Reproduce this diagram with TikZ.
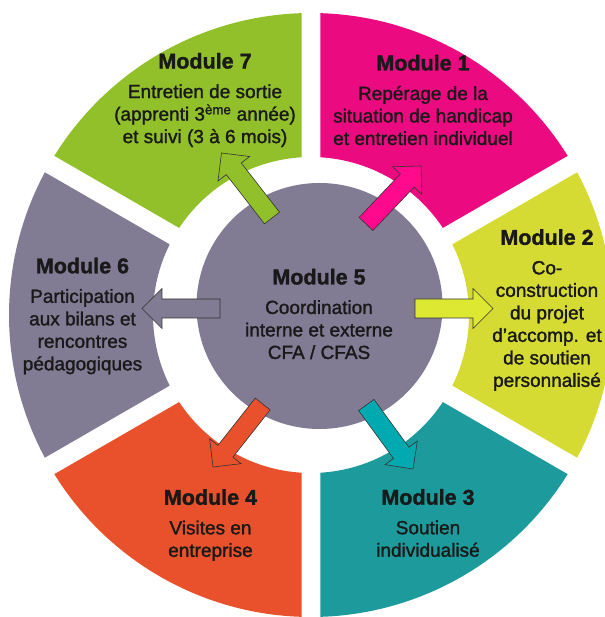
\documentclass[tikz,border=0pt]{standalone}
\usepackage{fontspec}
\setmainfont{Liberation Sans}
\newfontfamily\bodyfont[FakeBold=1.4]{Liberation Sans}
\usetikzlibrary{calc}

\definecolor{green7}{HTML}{92C02B}
\definecolor{magenta1}{HTML}{EB0A7F}
\definecolor{yellow2}{HTML}{D6DB33}
\definecolor{teal3}{HTML}{1D9B9C}
\definecolor{orange4}{HTML}{E9512C}
\definecolor{grey6}{HTML}{817B93}
\definecolor{pinkarrow}{HTML}{FF0A8C}
\definecolor{yellowarrow}{HTML}{DDE833}
\definecolor{tealarrow}{HTML}{00AAB0}

\tikzset{
  modtext/.style={align=center, inner sep=0pt, text=black!90, font=\bodyfont\fontsize{19}{22.5}\selectfont},
  hub/.style={circle, fill=grey6, minimum size=246pt, inner sep=0pt},
  arrowline/.style={draw=black!80, line width=0.6pt, line join=miter}
}
\newcommand{\modtitle}[1]{{\fontsize{21.5}{22.5}\selectfont\bfseries #1}\\[7pt]}
% block arrow from tail #2 to tip #3
\newcommand{\modarrow}[3]{%
  \coordinate (head) at ($(#3)!20pt!(#2)$);
  \filldraw[arrowline, fill=#1] ($(#2)!9.5pt!90:(#3)$) -- ($(head)!9.5pt!90:(#3)$)
    -- ($(head)!20pt!90:(#3)$) -- (#3) -- ($(head)!20pt!-90:(#3)$)
    -- ($(head)!9.5pt!-90:(#3)$) -- ($(#2)!9.5pt!-90:(#3)$) -- cycle;}

\begin{document}
\begin{tikzpicture}[x=1pt,y=1pt]
  \useasboundingbox (-311,-302) rectangle (293,315);
  \fill[white] (-311,-302) rectangle (293,315);

  % ring
  \pgfmathsetmacro{\rout}{302}
  \pgfmathsetmacro{\rin}{158}
  \pgfmathsetmacro{\dout}{asin(9.5/\rout)}
  \pgfmathsetmacro{\din}{asin(9.5/\rin)}
  \foreach \a/\col in {90/magenta1, 30/yellow2, -30/teal3, -90/orange4, -150/grey6, 150/green7}{
    \fill[\col] ({\a-\dout}:\rout) arc[start angle=\a-\dout, end angle=\a-60+\dout, radius=\rout]
      -- ({\a-60+\din}:\rin) arc[start angle=\a-60+\din, end angle=\a-\din, radius=\rin] -- cycle;
  }

  \node[hub] (hub) at (8.5,9) {};

  % arrows
  \coordinate (s1) at (55,91);      \coordinate (e1) at (110,149);
  \coordinate (s2) at (104,6.5);    \coordinate (e2) at (182,6.5);
  \coordinate (s3) at (55.3,-90);   \coordinate (e3) at (102,-154);
  \coordinate (s4) at (-48.3,-89);  \coordinate (e4) at (-98,-152);
  \coordinate (s6) at (-91,6.5);    \coordinate (e6) at (-169,6.5);
  \coordinate (s7) at (-39,97);     \coordinate (e7) at (-89.5,162);
  \modarrow{pinkarrow}{s1}{e1}
  \modarrow{yellowarrow}{s2}{e2}
  \modarrow{tealarrow}{s3}{e3}
  \modarrow{orange4}{s4}{e4}
  \modarrow{grey6}{s6}{e6}
  \modarrow{green7}{s7}{e7}

  % texts
  \node[modtext] (m7) at (-106,215) {\modtitle{Module 7}Entretien de sortie\\(apprenti 3\textsuperscript{ème} année)\\et suivi (3 à 6 mois)};
  \node[modtext] (m1) at (112,215) {\modtitle{Module 1}Repérage de la\\situation de handicap\\et entretien individuel};
  \node[modtext] (m2) at (236,5) {\modtitle{Module 2}Co-\\construction\\du projet\\d’accomp. et\\de soutien\\personnalisé};
  \node[modtext] (m3) at (117,-208) {\modtitle{Module 3}Soutien\\individualisé};
  \node[modtext] (m4) at (-100.5,-210) {\modtitle{Module 4}Visites en\\entreprise};
  \node[modtext] (m6) at (-228.5,-1) {\modtitle{Module 6}Participation\\aux bilans et\\rencontres\\pédagogiques};
  \node[modtext] (m5) at (8,1) {\modtitle{Module 5}Coordination\\interne et externe\\CFA / CFAS};
\end{tikzpicture}
\end{document}
